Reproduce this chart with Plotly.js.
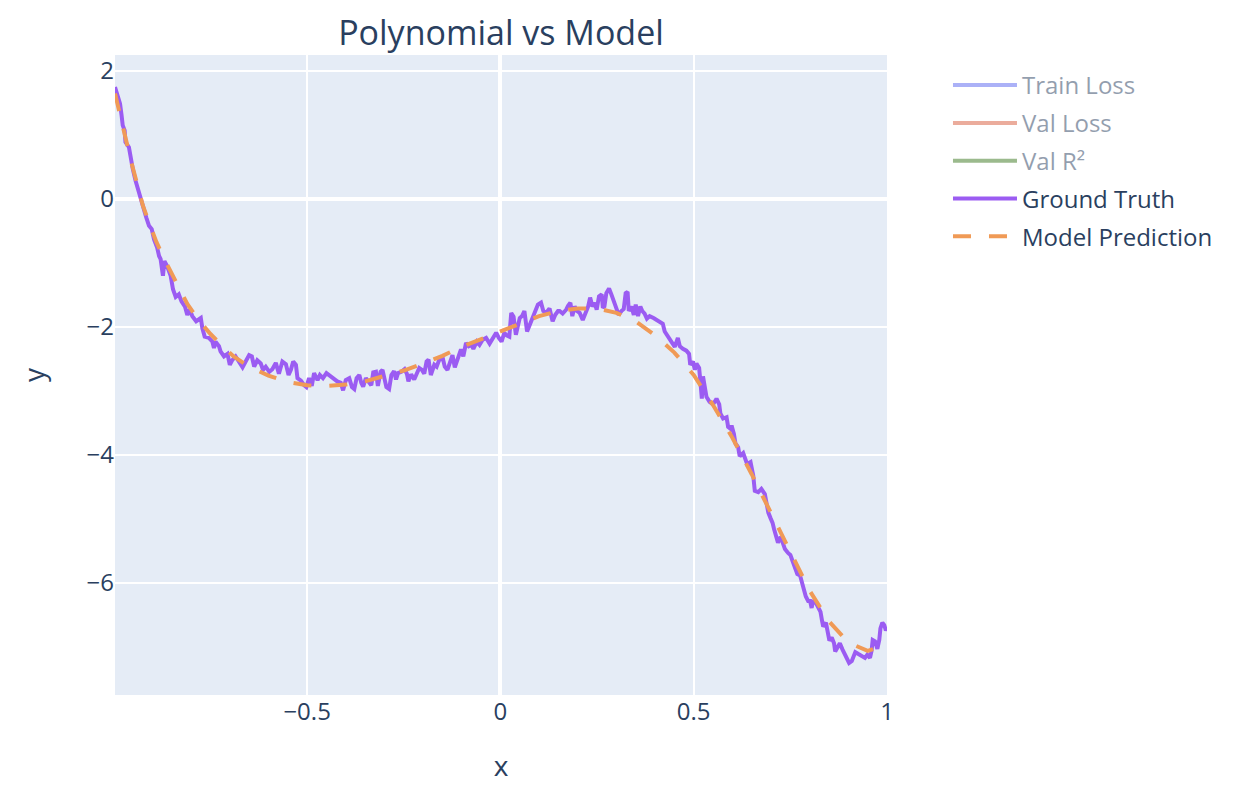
<!DOCTYPE html>
<html>
<head>
<meta charset="utf-8">
<script src="https://cdn.plot.ly/plotly-3.0.1.min.js"></script>
<style>
  html, body { margin: 0; padding: 0; background: #fff; }
  #chart { width: 1248px; height: 800px; }
</style>
</head>
<body>
<div id="chart"></div>
<script>
// Noisy samples of the target function
const gtX = [
  -0.997, -0.991, -0.984, -0.980, -0.977, -0.972, -0.970, -0.961, -0.957, -0.951,
  -0.944, -0.935, -0.928, -0.922, -0.916, -0.909, -0.902, -0.896, -0.888, -0.883,
  -0.879, -0.873, -0.869, -0.862, -0.853, -0.847, -0.840, -0.832, -0.825, -0.816,
  -0.810, -0.804, -0.797, -0.787, -0.775, -0.771, -0.765, -0.754, -0.745, -0.741,
  -0.737, -0.728, -0.724, -0.715, -0.706, -0.700, -0.694, -0.685, -0.676, -0.667,
  -0.659, -0.650, -0.643, -0.637, -0.629, -0.620, -0.614, -0.607, -0.598, -0.590,
  -0.581, -0.573, -0.564, -0.555, -0.548, -0.542, -0.536, -0.529, -0.525, -0.516,
  -0.508, -0.502, -0.495, -0.488, -0.482, -0.473, -0.467, -0.459, -0.450, -0.443,
  -0.434, -0.422, -0.413, -0.407, -0.400, -0.391, -0.384, -0.378, -0.372, -0.365,
  -0.360, -0.355, -0.348, -0.339, -0.334, -0.329, -0.322, -0.317, -0.310, -0.305,
  -0.300, -0.295, -0.288, -0.282, -0.275, -0.270, -0.265, -0.256, -0.248, -0.242,
  -0.238, -0.231, -0.223, -0.217, -0.210, -0.203, -0.197, -0.191, -0.186, -0.180,
  -0.171, -0.165, -0.158, -0.149, -0.144, -0.137, -0.132, -0.124, -0.118, -0.111,
  -0.102, -0.096, -0.089, -0.082, -0.075, -0.070, -0.061, -0.054, -0.046, -0.037,
  -0.028, -0.020, -0.011, -0.004, 0.003, 0.010, 0.016, 0.023, 0.028, 0.034,
  0.040, 0.045, 0.050, 0.056, 0.062, 0.069, 0.075, 0.080, 0.089, 0.097,
  0.105, 0.111, 0.118, 0.127, 0.135, 0.142, 0.149, 0.153, 0.161, 0.170,
  0.175, 0.181, 0.186, 0.192, 0.198, 0.205, 0.213, 0.220, 0.227, 0.232,
  0.238, 0.244, 0.249, 0.255, 0.262, 0.265, 0.269, 0.274, 0.281, 0.287,
  0.293, 0.300, 0.306, 0.313, 0.319, 0.324, 0.329, 0.332, 0.339, 0.345,
  0.350, 0.356, 0.362, 0.367, 0.373, 0.379, 0.386, 0.396, 0.405, 0.414,
  0.420, 0.425, 0.433, 0.442, 0.451, 0.459, 0.464, 0.472, 0.481, 0.488,
  0.491, 0.498, 0.503, 0.507, 0.514, 0.517, 0.521, 0.524, 0.528, 0.533,
  0.541, 0.550, 0.559, 0.566, 0.569, 0.576, 0.585, 0.589, 0.595, 0.598,
  0.604, 0.608, 0.615, 0.619, 0.628, 0.633, 0.638, 0.647, 0.654, 0.658,
  0.667, 0.675, 0.684, 0.688, 0.693, 0.699, 0.704, 0.708, 0.714, 0.718,
  0.725, 0.730, 0.736, 0.744, 0.750, 0.756, 0.762, 0.768, 0.775, 0.780,
  0.785, 0.790, 0.796, 0.801, 0.805, 0.809, 0.816, 0.822, 0.828, 0.832,
  0.835, 0.842, 0.845, 0.851, 0.857, 0.863, 0.866, 0.874, 0.878, 0.885,
  0.891, 0.896, 0.902, 0.909, 0.913, 0.918, 0.926, 0.934, 0.943, 0.949,
  0.956, 0.960, 0.963, 0.969, 0.975, 0.980, 0.983, 0.988, 0.993, 0.997,
  1.000
];
const gtY = [
  1.75, 1.62, 1.49, 1.31, 1.15, 1.07, 0.89, 0.81, 0.66, 0.47,
  0.29, 0.10, -0.05, -0.21, -0.29, -0.42, -0.47, -0.63, -0.76, -0.89,
  -0.94, -1.20, -0.97, -1.05, -1.20, -1.41, -1.53, -1.49, -1.60, -1.68,
  -1.81, -1.73, -1.83, -1.91, -1.86, -2.02, -2.15, -2.17, -2.23, -2.33,
  -2.23, -2.30, -2.38, -2.46, -2.42, -2.59, -2.52, -2.46, -2.56, -2.63,
  -2.54, -2.44, -2.46, -2.62, -2.52, -2.57, -2.67, -2.62, -2.70, -2.66,
  -2.56, -2.73, -2.54, -2.58, -2.75, -2.67, -2.54, -2.59, -2.80, -2.84,
  -2.91, -2.94, -2.80, -2.92, -2.72, -2.83, -2.75, -2.80, -2.72, -2.75,
  -2.80, -2.85, -2.87, -2.99, -2.83, -2.80, -2.94, -2.97, -2.80, -2.75,
  -2.87, -2.93, -2.80, -2.88, -2.91, -2.71, -2.70, -2.92, -2.70, -2.67,
  -2.83, -2.94, -2.97, -2.75, -2.69, -2.82, -2.72, -2.70, -2.66, -2.73,
  -2.85, -2.74, -2.82, -2.72, -2.64, -2.67, -2.73, -2.54, -2.51, -2.75,
  -2.59, -2.62, -2.51, -2.49, -2.62, -2.67, -2.57, -2.44, -2.63, -2.51,
  -2.35, -2.46, -2.25, -2.30, -2.28, -2.34, -2.23, -2.28, -2.20, -2.17,
  -2.26, -2.18, -2.09, -2.17, -2.23, -2.09, -2.13, -2.15, -1.78, -1.84,
  -2.12, -1.99, -1.86, -1.83, -1.75, -2.07, -1.98, -1.89, -1.78, -1.65,
  -1.62, -1.75, -1.78, -1.71, -1.91, -1.81, -1.75, -1.75, -1.79, -1.73,
  -1.67, -1.62, -1.83, -1.68, -1.75, -1.78, -1.89, -1.78, -1.68, -1.54,
  -1.68, -1.62, -1.73, -1.52, -1.49, -1.70, -1.68, -1.47, -1.40, -1.49,
  -1.60, -1.68, -1.81, -1.75, -1.72, -1.47, -1.45, -1.75, -1.68, -1.81,
  -1.65, -1.83, -1.68, -1.75, -1.79, -1.87, -1.83, -1.86, -1.89, -1.92,
  -1.95, -2.07, -2.15, -2.23, -2.31, -2.17, -2.30, -2.34, -2.37, -2.42,
  -2.59, -2.54, -2.67, -2.57, -2.64, -2.83, -3.12, -2.77, -2.91, -3.09,
  -3.17, -3.21, -3.12, -3.21, -3.35, -3.43, -3.41, -3.56, -3.59, -3.54,
  -3.67, -3.82, -3.88, -4.02, -3.97, -4.07, -4.14, -4.11, -4.32, -4.56,
  -4.58, -4.53, -4.61, -4.74, -4.90, -4.99, -5.06, -5.16, -5.26, -5.37,
  -5.28, -5.35, -5.47, -5.53, -5.56, -5.66, -5.76, -5.86, -5.88, -6.00,
  -6.10, -6.21, -6.28, -6.28, -6.39, -6.27, -6.31, -6.39, -6.45, -6.59,
  -6.68, -6.62, -6.73, -6.90, -6.85, -6.94, -7.07, -6.97, -6.94, -7.04,
  -7.12, -7.16, -7.25, -7.22, -7.15, -7.08, -7.11, -7.14, -7.17, -7.12,
  -7.17, -7.06, -6.89, -6.91, -7.03, -6.89, -6.71, -6.62, -6.66, -6.74,
  -6.70
];

// Fitted model output
const predX = [
  -0.997, -0.985, -0.970, -0.955, -0.940, -0.925, -0.910, -0.890, -0.870, -0.850,
  -0.830, -0.810, -0.780, -0.750, -0.720, -0.690, -0.650, -0.600, -0.550, -0.500,
  -0.450, -0.400, -0.350, -0.300, -0.250, -0.200, -0.150, -0.100, -0.050, 0.000,
  0.050, 0.100, 0.150, 0.200, 0.250, 0.300, 0.350, 0.400, 0.450, 0.500,
  0.550, 0.600, 0.650, 0.700, 0.750, 0.800, 0.850, 0.900, 0.950, 0.975,
  1.000
];
const predY = [
  1.65, 1.33, 0.95, 0.58, 0.24, -0.10, -0.35, -0.67, -0.93, -1.17,
  -1.41, -1.64, -1.90, -2.11, -2.29, -2.46, -2.62, -2.76, -2.86, -2.91,
  -2.92, -2.90, -2.85, -2.77, -2.68, -2.57, -2.45, -2.31, -2.19, -2.06,
  -1.94, -1.83, -1.75, -1.71, -1.71, -1.78, -1.91, -2.13, -2.40, -2.75,
  -3.22, -3.73, -4.30, -4.90, -5.52, -6.12, -6.60, -6.93, -7.06, -7.01,
  -6.88
];

// Training-history series, toggled off in the legend (no samples drawn here)
const hiddenNames = ['Train Loss', 'Val Loss', 'Val R²'];
const hiddenColors = ['#5a66f0', '#d85c3c', '#3a771d'];

const ink = '#2a3f5f';

const traces = hiddenNames.map((name, i) => ({
  type: 'scatter', mode: 'lines', name: name,
  x: [null], y: [null],
  visible: 'legendonly',
  legendgroup: 'g' + i,
  line: { color: hiddenColors[i], width: 4 }
}));

traces.push({
  type: 'scatter', mode: 'lines', name: 'Ground Truth',
  x: gtX, y: gtY, legendgroup: 'g3',
  line: { color: '#9b5cf2', width: 4 }
});
traces.push({
  type: 'scatter', mode: 'lines', name: 'Model Prediction',
  x: predX, y: predY, legendgroup: 'g4',
  line: { color: '#f09a56', width: 4, dash: '18px,18px' }
});

const axisCommon = {
  gridcolor: 'white', gridwidth: 2,
  zerolinecolor: 'white', zerolinewidth: 4,
  showline: false, ticks: '',
  tickfont: { size: 24, color: ink },
  automargin: false
};

const layout = {
  width: 1248, height: 800,
  paper_bgcolor: 'white',
  plot_bgcolor: '#E5ECF6',
  font: { family: '"Open Sans", verdana, arial, sans-serif', color: ink, size: 24 },
  margin: { l: 115, r: 361, t: 55, b: 105, pad: 0 },
  title: {
    text: 'Polynomial vs Model',
    font: { size: 34, color: ink },
    x: 0.5, xref: 'paper', xanchor: 'center',
    y: 0.959, yref: 'container', yanchor: 'middle'
  },
  xaxis: Object.assign({}, axisCommon, {
    tick0: 0, dtick: 0.5,
    title: { text: 'x', font: { size: 28, color: ink }, standoff: 30 }
  }),
  yaxis: Object.assign({}, axisCommon, {
    tick0: 0, dtick: 2,
    title: { text: 'y', font: { size: 28, color: ink }, standoff: 33 }
  }),
  showlegend: true,
  legend: {
    x: 1.079, xanchor: 'left', y: 0.9875, yanchor: 'top',
    font: { size: 24, color: ink },
    traceorder: 'grouped', tracegroupgap: 3.6,
    itemwidth: 64,
    bgcolor: 'rgba(0,0,0,0)'
  }
};

Plotly.newPlot('chart', traces, layout, { displayModeBar: false, responsive: false });
</script>
</body>
</html>
